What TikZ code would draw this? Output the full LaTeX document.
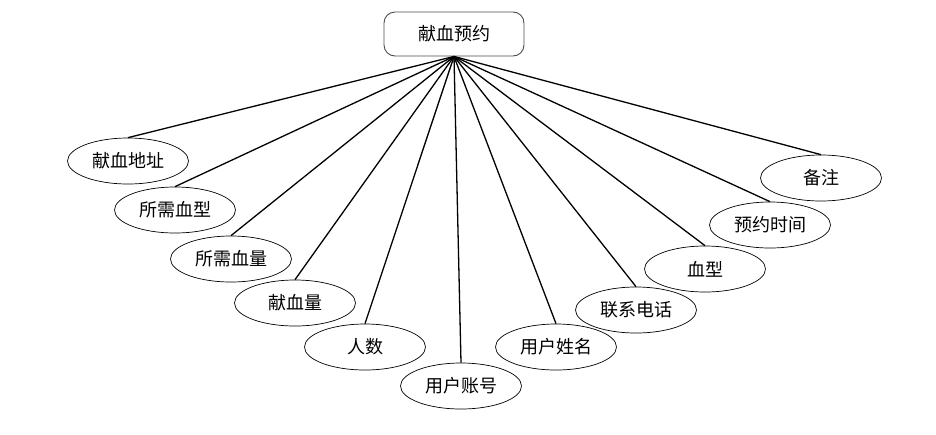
\documentclass[tikz,border=0pt]{standalone}
\usepackage{fontspec}
\setmainfont{Noto Sans CJK SC}
\usetikzlibrary{shapes.geometric}
\begin{document}
\begin{tikzpicture}[x=1pt, y=-1pt,
  attr/.style={ellipse, draw, line width=0.7pt, minimum width=121pt, minimum height=46pt, inner sep=0pt, font=\fontsize{18}{20}\selectfont},
  entity/.style={rectangle, rounded corners=11pt, draw=black!70, line width=0.9pt, minimum width=140pt, minimum height=44pt, inner sep=0pt, font=\fontsize{18}{20}\selectfont},
  link/.style={line width=1.3pt}]
\useasboundingbox (0,0) rectangle (936,434);
\node[entity] (tid0) at (454,34){献血预约};
\node[attr] (tid1) at (128,161){献血地址};
\node[attr] (tid2) at (175,210){所需血型};
\node[attr] (tid3) at (231,259){所需血量};
\node[attr] (tid4) at (295,303){献血量};
\node[attr] (tid5) at (365,347){人数};
\node[attr] (tid6) at (461,386){用户账号};
\node[attr] (tid7) at (556,347){用户姓名};
\node[attr] (tid8) at (636,310){联系电话};
\node[attr] (tid9) at (705,269){血型};
\node[attr] (tid10) at (770,225){预约时间};
\node[attr] (tid11) at (821,178){备注};
\draw[link](tid0.south) -- (tid1.north);
\draw[link](tid0.south) -- (tid2.north);
\draw[link](tid0.south) -- (tid3.north);
\draw[link](tid0.south) -- (tid4.north);
\draw[link](tid0.south) -- (tid5.north);
\draw[link](tid0.south) -- (tid6.north);
\draw[link](tid0.south) -- (tid7.north);
\draw[link](tid0.south) -- (tid8.north);
\draw[link](tid0.south) -- (tid9.north);
\draw[link](tid0.south) -- (tid10.north);
\draw[link](tid0.south) -- (tid11.north);
\end{tikzpicture}
\end{document}
